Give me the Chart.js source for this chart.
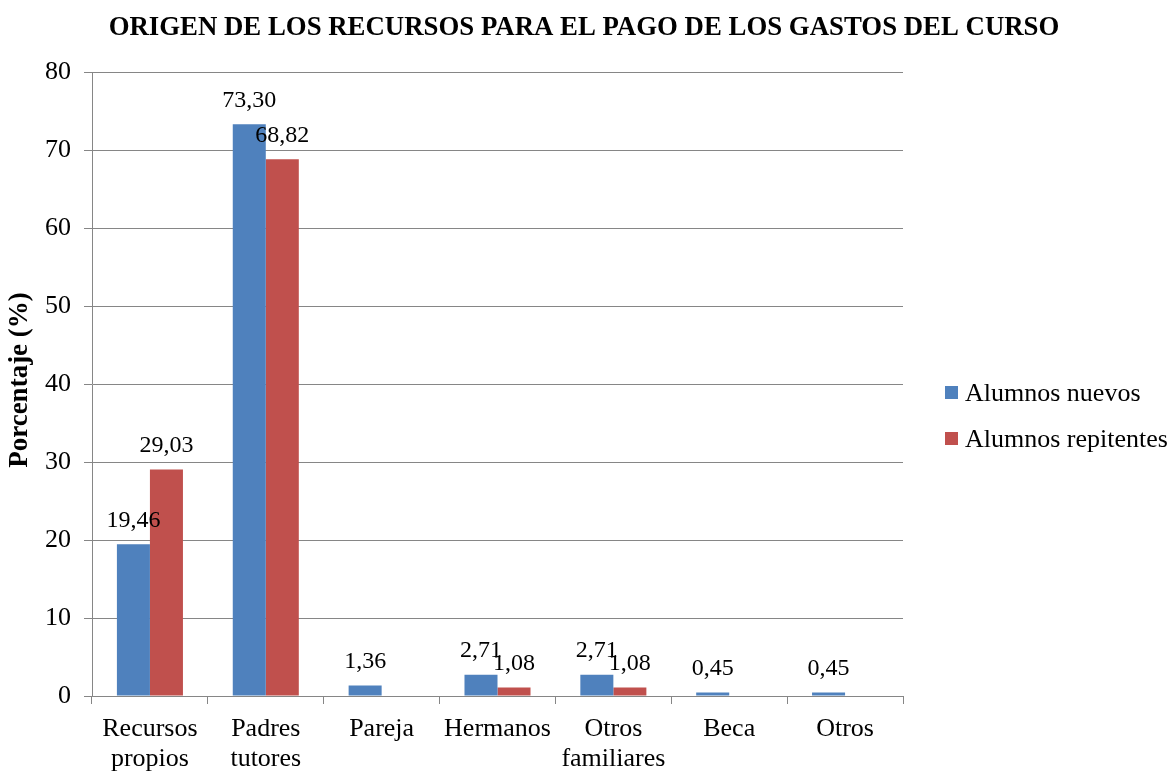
<!DOCTYPE html>
<html>
<head>
<meta charset="utf-8">
<script src="https://cdn.jsdelivr.net/npm/chart.js@4"></script>
<style>
	html, body { margin: 0; padding: 0; background: #ffffff; }
	#wrap { width: 1174px; height: 771px; position: relative; }
</style>
</head>
<body>
<div id="wrap"><canvas id="chart-origen"></canvas></div>
<script>
var categorias = [["Recursos", "propios"], ["Padres", "tutores"], "Pareja", "Hermanos", ["Otros", "familiares"], "Beca", "Otros"];
var alumnosNuevos = [19.46, 73.30, 1.36, 2.71, 2.71, 0.45, 0.45];
var alumnosRepitentes = [29.03, 68.82, null, 1.08, 1.08, null, null];
var serieNombres = ["Alumnos nuevos", "Alumnos repitentes"];
var ejeY = { min: 0, max: 80, paso: 10 };

var FUENTE = "'Liberation Serif', 'Times New Roman', serif";
var GRIS = "#868686";

// etiquetas de valor, titulo, eje y leyenda
var extras = {
	id: "extras",
	afterDatasetsDraw: function(chart)
	{
		var ctx = chart.ctx;
		ctx.save();
		ctx.fillStyle = "#000000";
		ctx.font = "24px " + FUENTE;
		ctx.textAlign = "center";
		ctx.textBaseline = "middle";
		chart.data.datasets.forEach(function(ds, i)
		{
			chart.getDatasetMeta(i).data.forEach(function(bar, j)
			{
				if (ds.data[j] === null) return;
				ctx.fillText(ds.data[j].toFixed(2).replace(".", ","), bar.x, bar.y - 24);
			});
		});

		// titulo
		ctx.font = "bold 26.8px " + FUENTE;
		ctx.fillText("ORIGEN DE LOS RECURSOS PARA EL PAGO DE LOS GASTOS DEL CURSO", 584, 28);

		// titulo eje y
		ctx.save();
		ctx.translate(20, 380);
		ctx.rotate(-Math.PI / 2);
		ctx.font = "bold 27px " + FUENTE;
		ctx.fillText("Porcentaje (%)", 0, 0);
		ctx.restore();

		// leyenda
		ctx.textAlign = "left";
		ctx.font = "26px " + FUENTE;
		chart.data.datasets.forEach(function(ds, i)
		{
			var y = 393 + i * 46;
			ctx.fillStyle = ds.backgroundColor;
			ctx.fillRect(945, y - 7, 13, 13);
			ctx.fillStyle = "#000000";
			ctx.fillText(ds.label, 965, y + 1);
		});
		ctx.restore();
	}
};

new Chart("chart-origen", {
	type: "bar",
	data: {
		labels: categorias,
		datasets: [{
			label: serieNombres[0],
			data: alumnosNuevos,
			backgroundColor: "#4F81BD",
			categoryPercentage: 0.57,
			barPercentage: 1
		}, {
			label: serieNombres[1],
			data: alumnosRepitentes,
			backgroundColor: "#C0504D",
			categoryPercentage: 0.57,
			barPercentage: 1
		}]
	},
	options: {
		responsive: true,
		maintainAspectRatio: false,
		animation: false,
		layout: { padding: { top: 72, right: 271, left: 0, bottom: 0 } },
		plugins: {
			legend: { display: false },
			title: { display: false },
			tooltip: { enabled: false }
		},
		scales: {
			x: {
				grid: { offset: true, drawOnChartArea: false, drawTicks: true, tickLength: 8, color: GRIS },
				border: { color: GRIS, width: 1 },
				ticks: { color: "#000000", font: { family: FUENTE, size: 26, lineHeight: 1.15 }, padding: 10, maxRotation: 0, autoSkip: false },
				afterFit: function(scale) { scale.height = 75; }
			},
			y: {
				min: ejeY.min,
				max: ejeY.max,
				grid: { color: GRIS, tickLength: 8 },
				border: { color: GRIS, width: 1 },
				ticks: { stepSize: ejeY.paso, color: "#000000", font: { family: FUENTE, size: 26 }, padding: 13 },
				afterFit: function(scale) { scale.width = 92; }
			}
		}
	},
	plugins: [extras]
});
</script>
</body>
</html>
